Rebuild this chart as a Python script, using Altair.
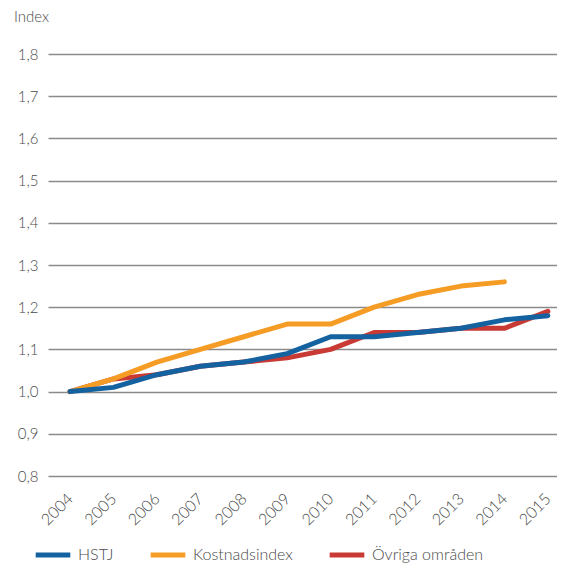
import altair as alt
import pandas as pd

years = list(range(2004, 2016))
hstj = [1.00, 1.01, 1.04, 1.06, 1.07, 1.09, 1.13, 1.13, 1.14, 1.15, 1.17, 1.18]
kostnad = [1.00, 1.03, 1.07, 1.10, 1.13, 1.16, 1.16, 1.20, 1.23, 1.25, 1.26]
ovriga = [1.00, 1.03, 1.04, 1.06, 1.07, 1.08, 1.10, 1.14, 1.14, 1.15, 1.15, 1.19]
y_ticks = [0.8, 0.9, 1.0, 1.1, 1.2, 1.3, 1.4, 1.5, 1.6, 1.7, 1.8]

series = ["HSTJ", "Kostnadsindex", "Övriga områden"]
colors = ["#14629f", "#f59c25", "#c93a34"]

rows = []
for name, vals in [("Övriga områden", ovriga), ("Kostnadsindex", kostnad), ("HSTJ", hstj)]:
    for y, v in zip(years, vals):
        rows.append({"År": y, "Index": v, "Serie": name})
df = pd.DataFrame(rows)

FONT = "Lato"
TXT = "#4a4a4a"

chart = alt.Chart(df).mark_line(strokeWidth=5, strokeCap="round", strokeJoin="round").encode(
    x=alt.X("År:Q", scale=alt.Scale(domain=[2003.494, 2015.21], nice=False, zero=False),
            axis=alt.Axis(title=None, values=years, format="d", labelAngle=-45, labelAlign="right",
                          labelBaseline="middle", domain=False, ticks=False, grid=False,
                          labelPadding=20, labelFontSize=16, labelColor=TXT, labelFont=FONT,
                          labelFontWeight=300, labelFlush=False, labelOverlap=False)),
    y=alt.Y("Index:Q", scale=alt.Scale(domain=[0.8, 1.8], nice=False, zero=False),
            axis=alt.Axis(title=None, values=y_ticks,
                          labelExpr="replace(format(datum.value, '.1f'), '.', ',')",
                          domain=False, ticks=False, grid=True, gridColor="#8a8a8a", gridWidth=1.5,
                          labelPadding=10, labelFontSize=15, labelColor=TXT, labelFont=FONT,
                          labelFontWeight=300)),
    color=alt.Color("Serie:N", scale=alt.Scale(domain=series, range=colors),
                    legend=alt.Legend(title=None, orient="none", direction="horizontal",
                                      legendX=-15, legendY=481, symbolType="stroke",
                                      symbolStrokeWidth=5, symbolSize=1200, columnPadding=26,
                                      labelOffset=5, labelFontSize=16, labelColor=TXT,
                                      labelFont=FONT, labelFontWeight=300)),
).properties(
    width=509, height=422,
    title=alt.TitleParams("Index", anchor="start", frame="group", fontSize=15, font=FONT,
                          fontWeight=300, color=TXT, dx=-34, offset=22),
    autosize=alt.AutoSizeParams(type="none"),
    padding={"left": 40, "top": 46, "right": 0, "bottom": 89},
).configure_view(stroke=None)

chart.save("out.html", embed_options={"renderer": "svg", "actions": False})
